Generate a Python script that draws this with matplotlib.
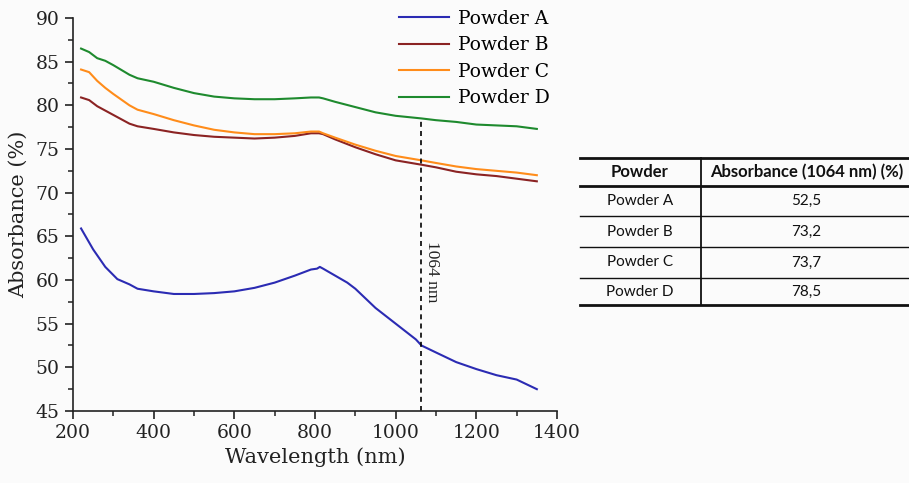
import matplotlib
matplotlib.use("Agg")
import matplotlib.pyplot as plt
import numpy as np
from matplotlib.lines import Line2D
from matplotlib.ticker import MultipleLocator

wl_a = [220, 250, 280, 310, 340, 360, 400, 450, 500, 550, 600, 650, 700, 750, 790, 805, 812, 820, 850, 880, 900, 950, 1000, 1050, 1064, 1100, 1150, 1200, 1250, 1300, 1350]
powder_a = [65.9, 63.5, 61.5, 60.1, 59.5, 59.0, 58.7, 58.4, 58.4, 58.5, 58.7, 59.1, 59.7, 60.5, 61.2, 61.3, 61.5, 61.3, 60.5, 59.7, 59.0, 56.8, 55.0, 53.2, 52.5, 51.7, 50.6, 49.8, 49.1, 48.6, 47.5]

wl_bcd = [220, 240, 260, 280, 300, 340, 360, 400, 450, 500, 550, 600, 650, 700, 750, 790, 810, 820, 850, 900, 950, 1000, 1064, 1100, 1150, 1200, 1250, 1300, 1350]
powder_b = [80.9, 80.6, 79.9, 79.4, 78.9, 77.9, 77.6, 77.3, 76.9, 76.6, 76.4, 76.3, 76.2, 76.3, 76.5, 76.8, 76.8, 76.7, 76.1, 75.2, 74.4, 73.7, 73.2, 72.9, 72.4, 72.1, 71.9, 71.6, 71.3]
powder_c = [84.1, 83.8, 82.8, 82.0, 81.3, 80.0, 79.5, 79.0, 78.3, 77.7, 77.2, 76.9, 76.7, 76.7, 76.8, 77.0, 77.0, 76.8, 76.3, 75.5, 74.8, 74.2, 73.7, 73.4, 73.0, 72.7, 72.5, 72.3, 72.0]
powder_d = [86.5, 86.1, 85.4, 85.1, 84.6, 83.5, 83.1, 82.7, 82.0, 81.4, 81.0, 80.8, 80.7, 80.7, 80.8, 80.9, 80.9, 80.8, 80.4, 79.8, 79.2, 78.8, 78.5, 78.3, 78.1, 77.8, 77.7, 77.6, 77.3]

labels = ["Powder A", "Powder B", "Powder C", "Powder D"]
colors = ["#2b2bb3", "#8b2323", "#ff8c1a", "#1e8a2e"]

table_header = ["Powder", "Absorbance (1064 nm) (%)"]
table_values = ["52,5", "73,2", "73,7", "78,5"]
laser_wl = 1064

serif = ["DejaVu Serif"]
fig = plt.figure(figsize=(9.09, 4.83), dpi=100)
fig.patch.set_facecolor("#fbfbfb")
ax = fig.add_axes([73/909, 1-411/483, 484/909, 393/483])
ax.set_facecolor("none")

series = [(wl_a, powder_a), (wl_bcd, powder_b), (wl_bcd, powder_c), (wl_bcd, powder_d)]
for (x, y), lab, c in zip(series, labels, colors):
    ax.plot(x, y, color=c, lw=1.5, label=lab)

ax.plot([laser_wl, laser_wl], [45, powder_d[wl_bcd.index(1064)]], color="black", ls=(0, (3, 2.5)), lw=1.2)
ax.text(1090, 61.0, "1064 nm", rotation=270, ha="center", va="center",
        fontsize=12.5, family=["Liberation Serif"], color="#222222")

ax.set_xlim(200, 1400)
ax.set_ylim(45, 90)
ax.xaxis.set_major_locator(MultipleLocator(200))
ax.xaxis.set_minor_locator(MultipleLocator(100))
ax.yaxis.set_major_locator(MultipleLocator(5))
ax.yaxis.set_minor_locator(MultipleLocator(2.5))
for s in ["top", "right"]:
    ax.spines[s].set_visible(False)
for s in ["left", "bottom"]:
    ax.spines[s].set_linewidth(1.2)
    ax.spines[s].set_color("#222222")
ax.tick_params(which="major", direction="out", length=6, width=1.2, labelsize=13.5, colors="#222222")
ax.tick_params(which="minor", direction="out", length=3.5, width=1.1, colors="#222222")
for t in ax.get_xticklabels() + ax.get_yticklabels():
    t.set_family(serif)
ax.set_xlabel("Wavelength (nm)", fontsize=15, family=serif, color="#222222", labelpad=4)
ax.set_ylabel("Absorbance (%)", fontsize=15, family=serif, color="#222222", labelpad=6)

leg = ax.legend(loc="upper right", bbox_to_anchor=(1.0, 1.04), frameon=False,
                prop={"family": serif, "size": 13.5}, handlelength=2.7,
                handletextpad=0.45, labelspacing=0.45, borderaxespad=0)

# table
W, H = 909, 483
def fx(px): return px / W
def fy(py): return 1 - py / H
x0, x1, xm = 580, 909, 701
rows_y = [158, 186, 216, 247, 278, 305]
tcol = "#111111"
for i, yy in enumerate(rows_y):
    lw = 2.0 if i in (0, 1, len(rows_y) - 1) else 1.0
    fig.add_artist(Line2D([fx(x0), fx(x1)], [fy(yy), fy(yy)], color=tcol, lw=lw))
fig.add_artist(Line2D([fx(xm), fx(xm)], [fy(rows_y[0]), fy(rows_y[-1])], color=tcol, lw=1.3))
tfont = ["Lato", "DejaVu Sans"]
fig.text(fx(640), fy((rows_y[0] + rows_y[1]) / 2), table_header[0], ha="center", va="center",
         fontsize=12, weight="bold", family=tfont, color=tcol)
fig.text(fx(807), fy((rows_y[0] + rows_y[1]) / 2), table_header[1], ha="center", va="center",
         fontsize=12, weight="bold", family=tfont, color=tcol)
for i, (lab, val) in enumerate(zip(labels, table_values)):
    yc = (rows_y[i + 1] + rows_y[i + 2]) / 2
    fig.text(fx(640), fy(yc), lab, ha="center", va="center", fontsize=11, family=tfont, color=tcol)
    fig.text(fx(806), fy(yc), val, ha="center", va="center", fontsize=11, family=tfont, color=tcol)

fig.savefig("out.png", dpi=100, facecolor=fig.get_facecolor())
